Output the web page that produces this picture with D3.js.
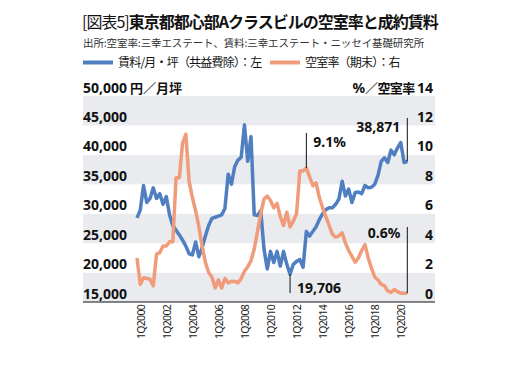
<!DOCTYPE html>
<html>
<head>
<meta charset="utf-8">
<script src="https://cdn.jsdelivr.net/npm/d3@7"></script>
<style>
  body { margin: 0; background: #fff; }
  text { font-family: "Noto Sans", "Noto Sans CJK JP", sans-serif; }
  .jp { font-family: "Noto Sans CJK JP", sans-serif; }
</style>
</head>
<body>
<div id="chart"></div>
<script>
const years = d3.range(2000, 2021);
const quarters = years.flatMap(y => [1, 2, 3, 4].map(q => q + 'Q' + y));
const tickLabels = ['1Q2000', '1Q2002', '1Q2004', '1Q2006', '1Q2008', '1Q2010', '1Q2012', '1Q2014', '1Q2016', '1Q2018', '1Q2020'];

// 賃料 (円/月・坪)
const rent = [
    29300, 30600, 34800, 31900, 32600, 34400, 32600, 33400, 31600, 32900,
    29800, 28000, 27200, 26400, 25500, 24500, 23200, 23000, 25200, 22700,
    24200, 26200, 28000, 29200, 29400, 29600, 29800, 30900, 36700, 35000,
    38000, 39100, 39600, 45100, 38900, 43100, 29800, 29700, 30500, 24000,
    20600, 23600, 21700, 23600, 21100, 23600, 21400, 19706, 21400, 21900,
    22200, 20900, 27000, 26200, 27000, 27800, 29000, 30000, 30700, 31000,
    31000, 31600, 32500, 35500, 33000, 34200, 31900, 33600, 33700, 33400,
    34800, 34400, 34500, 35000, 36500, 38900, 39500, 38700, 40800, 40000,
    41200, 42100, 38700, 38871
];

// 空室率 (%)
const vacancy = [
    3.0, 1.2, 1.65, 1.6, 1.55, 1.1, 3.25, 3.35, 3.8, 3.8,
    4.1, 4.1, 8.45, 8.45, 10.8, 11.4, 8.2, 7.1, 6.2, 5.1,
    3.8, 2.7, 2.0, 1.7, 0.95, 1.5, 0.95, 1.6, 1.3, 1.4,
    1.4, 1.3, 1.6, 2.1, 2.4, 2.8, 3.6, 4.8, 6.0, 7.0,
    7.2, 6.9, 6.4, 6.7, 5.8, 5.2, 6.1, 5.1, 5.5, 6.0,
    8.9, 8.9, 9.1, 8.5, 7.9, 8.1, 7.1, 6.4, 5.8, 5.2,
    4.6, 4.4, 4.5, 4.7, 4.0, 3.5, 3.1, 2.7, 3.0, 3.5,
    3.9, 3.0, 2.3, 1.7, 1.5, 1.2, 1.1, 0.75, 0.65, 0.85,
    0.7, 0.6, 0.6, 0.6
];

const leftTicks = [15000, 20000, 25000, 30000, 35000, 40000, 45000, 50000];
const rightTicks = [0, 2, 4, 6, 8, 10, 12, 14];

const width = 510;
const height = 371;
const plotLeft = 83;
const plotRight = 435;
const plotTop = 96;
const plotBottom = 302;
const blue = '#4f7fc1';
const orange = '#f09c7b';

const svg = d3.select('#chart')
    .append('svg')
    .attr('width', width)
    .attr('height', height);

const x = d3.scalePoint()
    .domain(quarters)
    .range([137, 407.3]);

const yLeft = d3.scaleLinear()
    .domain([15000, 50000])
    .range([plotBottom, plotTop]);

const yRight = d3.scaleLinear()
    .domain([0, 14])
    .range([plotBottom, plotTop]);

svg.selectAll('rect.band')
    .data(d3.pairs(leftTicks))
    .join('rect')
    .attr('class', 'band')
    .attr('x', plotLeft)
    .attr('width', plotRight - plotLeft)
    .attr('y', d => yLeft(d[1]))
    .attr('height', d => yLeft(d[0]) - yLeft(d[1]))
    .attr('fill', (d, i) => i % 2 === 0 ? '#e9ebee' : '#fff');

svg.append('line')
    .attr('x1', plotLeft)
    .attr('x2', plotRight)
    .attr('y1', plotBottom)
    .attr('y2', plotBottom)
    .attr('stroke', '#111')
    .attr('stroke-width', 1.2);

svg.selectAll('text.ly')
    .data(leftTicks)
    .join('text')
    .attr('class', 'ly')
    .attr('x', plotLeft)
    .attr('y', d => yLeft(d) - 3.5)
    .attr('font-size', 14)
    .attr('font-weight', 'bold')
    .attr('fill', '#111')
    .text(d => d3.format(',')(d))
    .filter(d => d === 50000)
    .append('tspan')
    .attr('class', 'jp')
    .attr('font-size', 13)
    .text(' 円／月坪');

svg.selectAll('text.ry')
    .data(rightTicks)
    .join('text')
    .attr('class', 'ry')
    .attr('x', 433)
    .attr('y', d => yRight(d) - 3.5)
    .attr('text-anchor', 'end')
    .attr('font-size', 14)
    .attr('font-weight', 'bold')
    .attr('fill', '#111')
    .text(d => d === 14 ? '' : d)
    .filter(d => d === 14)
    .call(t => t.append('tspan').text('%'))
    .call(t => t.append('tspan').attr('class', 'jp').attr('font-size', 13).attr('letter-spacing', -0.6).text('／空室率 '))
    .call(t => t.append('tspan').text('14'));

const xAxis = d3.axisBottom(x)
    .tickValues(tickLabels)
    .tickSize(0);

svg.append('g')
    .attr('transform', 'translate(0,' + (plotBottom + 3) + ')')
    .call(xAxis)
    .call(g => g.select('.domain').remove())
    .selectAll('text')
    .attr('font-family', '"Noto Sans", sans-serif')
    .attr('font-size', 10.5)
    .attr('letter-spacing', -0.7)
    .attr('fill', '#222')
    .attr('text-anchor', 'end')
    .attr('transform', 'rotate(-90)')
    .attr('x', 0)
    .attr('y', 0)
    .attr('dy', '0.7em');

const rentLine = d3.line()
    .x((d, i) => x(quarters[i]))
    .y(d => yLeft(d));

const vacancyLine = d3.line()
    .x((d, i) => x(quarters[i]))
    .y(d => yRight(d));

svg.append('path')
    .datum(rent)
    .attr('fill', 'none')
    .attr('stroke', blue)
    .attr('stroke-width', 3.5)
    .attr('stroke-linejoin', 'round')
    .attr('d', rentLine);

svg.append('path')
    .datum(vacancy)
    .attr('fill', 'none')
    .attr('stroke', orange)
    .attr('stroke-width', 3.5)
    .attr('stroke-linejoin', 'round')
    .attr('d', vacancyLine);

const last = quarters.length - 1;
const peakIdx = d3.maxIndex(vacancy.slice(40)) + 40;
const minIdx = d3.minIndex(rent);

const notes = [
    { q: quarters[peakIdx], y1: yRight(vacancy[peakIdx]), y2: 133, label: vacancy[peakIdx].toFixed(1) + '%', dx: 7, ty: 147, anchor: 'start' },
    { q: quarters[last], y1: yLeft(rent[last]), y2: 118, label: d3.format(',')(rent[last]), dx: -7, ty: 132, anchor: 'end' },
    { q: quarters[last], y1: yRight(vacancy[last]), y2: 227, label: vacancy[last].toFixed(1) + '%', dx: -7, ty: 238, anchor: 'end' },
    { q: quarters[minIdx], y1: yLeft(rent[minIdx]), y2: 293, label: d3.format(',')(rent[minIdx]), dx: 7, ty: 293, anchor: 'start' }
];

svg.selectAll('line.note')
    .data(notes)
    .join('line')
    .attr('class', 'note')
    .attr('x1', d => x(d.q))
    .attr('x2', d => x(d.q))
    .attr('y1', d => d.y1)
    .attr('y2', d => d.y2)
    .attr('stroke', '#111')
    .attr('stroke-width', 1);

svg.selectAll('text.note')
    .data(notes)
    .join('text')
    .attr('class', 'note')
    .attr('x', d => x(d.q) + d.dx)
    .attr('y', d => d.ty)
    .attr('text-anchor', d => d.anchor)
    .attr('font-size', 14)
    .attr('font-weight', 'bold')
    .attr('fill', '#111')
    .text(d => d.label);

const title = svg.append('text')
    .attr('class', 'jp')
    .attr('x', 82)
    .attr('y', 28)
    .attr('font-size', 16)
    .attr('letter-spacing', -1)
    .attr('fill', '#111');
title.append('tspan').attr('font-weight', 'normal').text('[図表5]');
title.append('tspan').attr('font-weight', 'bold').text('東京都都心部Aクラスビルの空室率と成約賃料');

svg.append('text')
    .attr('class', 'jp')
    .attr('x', 83)
    .attr('y', 47)
    .attr('font-size', 10.5)
    .attr('letter-spacing', -0.1)
    .attr('fill', '#333')
    .text('出所:空室率:三幸エステート、賃料:三幸エステート・ニッセイ基礎研究所');

const legendItems = [
    { label: '賃料/月・坪（共益費除）：左', color: blue, x: 83 },
    { label: '空室率（期末）：右', color: orange, x: 270 }
];

const legend = svg.selectAll('g.legend')
    .data(legendItems)
    .join('g')
    .attr('class', 'legend')
    .attr('transform', d => 'translate(' + d.x + ',62.5)');

legend.append('line')
    .attr('x1', 0)
    .attr('x2', 30)
    .attr('stroke', d => d.color)
    .attr('stroke-width', 4);

legend.append('text')
    .attr('class', 'jp')
    .attr('x', 35)
    .attr('y', 4.5)
    .attr('font-size', 12)
    .attr('letter-spacing', -0.8)
    .attr('fill', '#111')
    .text(d => d.label);
</script>
</body>
</html>
